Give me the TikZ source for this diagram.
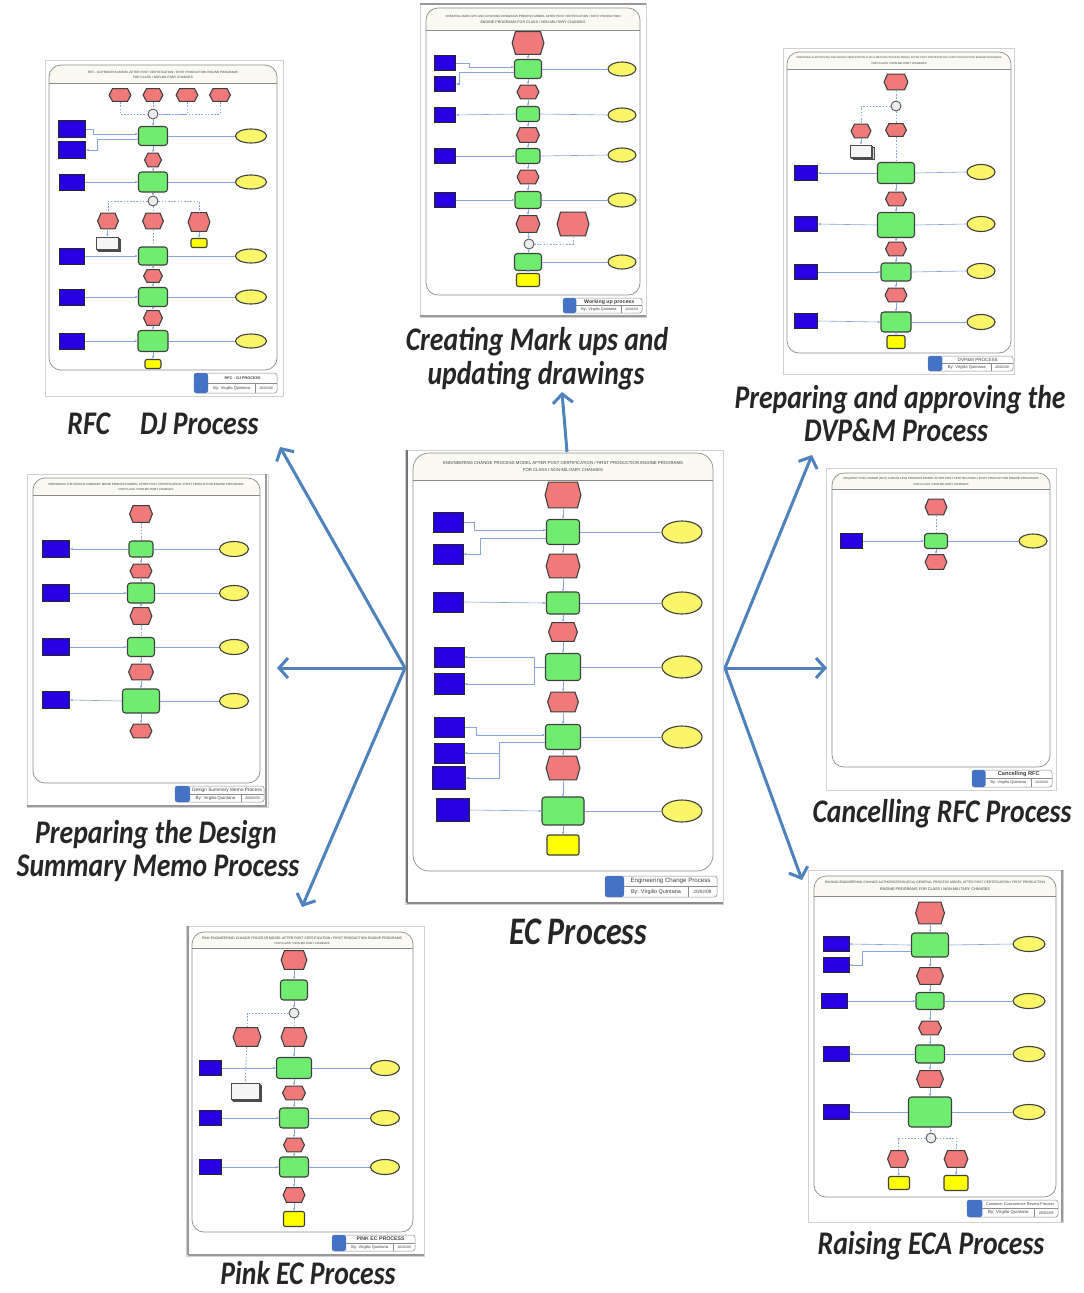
\documentclass[tikz,border=0pt]{standalone}
\usepackage{fontspec}
\setmainfont{Liberation Sans}
\newfontfamily\lblfont{Carlito}
\usepackage{graphicx}
\usetikzlibrary{shapes.misc,shapes.geometric,arrows.meta,shadows}
\definecolor{evred}{RGB}{240,122,122}
\definecolor{fngreen}{RGB}{112,236,112}
\definecolor{oublue}{RGB}{38,0,225}
\definecolor{elyel}{RGB}{250,245,105}
\definecolor{enyel}{RGB}{255,255,0}
\definecolor{conblue}{RGB}{135,165,225}
\definecolor{arrblue}{RGB}{79,129,189}
\definecolor{hdrfill}{RGB}{250,250,242}
\definecolor{footblue}{RGB}{68,114,196}
\tikzset{
  ev/.style={rectangle, inner sep=0pt, path picture={
     \filldraw[draw=black!75, fill=evred, line width=1.1pt, line join=round]
       ([xshift=4pt,yshift=-0.6pt]path picture bounding box.north west) --
       ([xshift=-4pt,yshift=-0.6pt]path picture bounding box.north east) --
       ([xshift=-0.6pt]path picture bounding box.east) --
       ([xshift=-4pt,yshift=0.6pt]path picture bounding box.south east) --
       ([xshift=4pt,yshift=0.6pt]path picture bounding box.south west) --
       ([xshift=0.6pt]path picture bounding box.west) -- cycle;}},
  fn/.style={rectangle, rounded corners=3pt, draw=black!75, line width=1.1pt, fill=fngreen, inner sep=0pt},
  ou/.style={rectangle, draw=black!85, line width=1pt, fill=oublue, inner sep=0pt},
  el/.style={ellipse, draw=black!75, line width=1.1pt, fill=elyel, inner sep=0pt},
  en/.style={rectangle, rounded corners=2pt, draw=black!75, line width=1.1pt, fill=enyel, inner sep=0pt},
  xo/.style={circle, draw=black!65, line width=0.9pt, fill=gray!15, inner sep=0pt, minimum size=10},
  dc/.style={rectangle, draw=black!70, line width=0.8pt, fill=gray!8, inner sep=0pt,
             double copy shadow={shadow xshift=1.3pt, shadow yshift=-1.3pt, draw=black!70, fill=gray!30}},
  con/.style={draw=conblue, line width=0.6pt},
  cona/.style={con, -{Latex[length=2.5pt,width=2.5pt]}},
  dsh/.style={draw=conblue, line width=0.9pt, dash pattern=on 1.6pt off 1.6pt},
  framel/.style={draw=black!45, line width=0.7pt},
  hdrline/.style={draw=black!45, line width=0.5pt},
  outer/.style={draw=black!18, line width=0.5pt},
  footline/.style={draw=black!45, line width=0.5pt},
  tinyt/.style={inner sep=0pt, text=black!75},
  lbl/.style={font=\lblfont\bfseries\itshape\fontsize{33}{33}\selectfont, inner sep=0pt, anchor=base, text=black!85},
  bigarr/.style={draw=arrblue, line width=3pt, -{Straight Barb[length=9pt,width=20pt]}}
}
\newcommand\epcn[6]{\node[#1, minimum width=#5, minimum height=#6] (#2) at (#3,#4) {};}
\newcommand\epcchain[1]{\foreach \pa/\pb in {#1} {\draw[cona] (\pa) -- (\pb);}}
\newcommand\epcdash[1]{\foreach \pa/\pb in {#1} {\draw[dsh] (\pa) -- (\pb);}}
\newcommand\epcline[1]{\foreach \pa/\pb in {#1} {\draw[con] (\pa.east) -- (\pb.west);}}
\newcommand\epcin[1]{\foreach \pa/\pb in {#1} {\draw[cona] (\pa.east) -- (\pb.west);}}
\newcommand\epcout[1]{\foreach \pa/\pb in {#1} {\draw[cona] (\pa.west) -- (\pb.east);}}
\newcommand\thumbfr[6]{%
  \begin{scope}
    \clip[rounded corners=#6] (#1,#2) rectangle (#3,#4);
    \fill[white] (#1,#2) rectangle (#3,#4);
    \fill[hdrfill] (#1,#2) rectangle (#3,#5);
  \end{scope}
  \draw[framel, rounded corners=#6] (#1,#2) rectangle (#3,#4);
  \draw[hdrline] (#1,#5) -- (#3,#5);
}
\newcommand\thumbhdr[8]{%
  \node[tinyt] (#1a) at (#2,#3) {\resizebox{#5pt}{!}{#7}};
  \node[tinyt] (#1b) at (#2,#4) {\resizebox{#6pt}{!}{#8}};
}
\newcommand\thumbfoot[7]{%
  \pgfmathsetmacro\fxa{#2+0.17*(#4-#2)}%
  \pgfmathsetmacro\fym{(#3+#5)/2}%
  \pgfmathsetmacro\fxb{#2+0.74*(#4-#2)}%
  \pgfmathsetmacro\fxt{(\fxa+#4)/2}%
  \pgfmathsetmacro\fyt{(#3+\fym)/2}%
  \pgfmathsetmacro\fyb{(\fym+#5)/2}%
  \pgfmathsetmacro\fxl{(\fxa+\fxb)/2}%
  \pgfmathsetmacro\fxr{(\fxb+#4)/2}%
  \pgfmathsetmacro\fwl{0.78*(\fxb-\fxa)}%
  \pgfmathsetmacro\fwr{0.62*(#4-\fxb)}%
  \draw[footline, fill=white, rounded corners=2.5pt] (#2,#3) rectangle (#4,#5);
  \fill[footblue, rounded corners=2.5pt] (#2,#3) rectangle (\fxa,#5);
  \draw[footline] (\fxa,\fym) -- (#4,\fym);
  \draw[footline] (\fxb,\fym) -- (\fxb,#5);
  \node[tinyt] (#1t) at (\fxt,\fyt) {\resizebox{#7pt}{!}{#6}};
  \node[tinyt] (#1a) at (\fxl,\fyb) {\resizebox{\fwl pt}{!}{By: Virgilio Quintana}};
  \node[tinyt] (#1d) at (\fxr,\fyb) {\resizebox{\fwr pt}{!}{20/02/09}};
}
\begin{document}
\begin{tikzpicture}[x=1pt,y=-1pt]
\useasboundingbox (0,0) rectangle (1084,1293);
\fill[white] (0,0) rectangle (1084,1293);

% ================= EC (centre) =================
\draw[outer] (405,450) rectangle (723,904);
\draw[black!55, line width=1.2pt] (407,450) -- (407,903);
\draw[black!45, line width=2pt] (407,903) -- (723,903);
\thumbfr{413}{453}{713}{871}{480}{16}
\thumbhdr{hEC}{563}{463}{470}{240}{80}{ENGINEERING CHANGE PROCESS MODEL AFTER POST CERTIFICATION / FIRST PRODUCTION ENGINE PROGRAMS}{FOR CLASS I NON-MILITARY CHANGES}
\epcn{ev}{e1}{563}{495}{37}{27}
\epcn{fn}{e2}{563}{532}{33}{25}
\epcn{ev}{e3}{563}{566}{35}{25}
\epcn{fn}{e4}{563}{603}{33}{22}
\epcn{ev}{e5}{563}{632}{30}{20}
\epcn{fn}{e6}{563}{667}{35}{27}
\epcn{ev}{e7}{563}{702}{32}{21}
\epcn{fn}{e8}{563}{737}{35}{25}
\epcn{ev}{e9}{563}{768}{35}{25}
\epcn{fn}{e10}{563}{811}{42}{28}
\epcn{en}{e11}{563}{845}{32}{20}
\epcn{ou}{eb1}{448}{522}{30}{20}
\epcn{ou}{eb2}{448}{554}{30}{20}
\epcn{ou}{eb3}{448}{602}{30}{20}
\epcn{ou}{eb4}{449}{657}{30}{20}
\epcn{ou}{eb5}{449}{684}{30}{21}
\epcn{ou}{eb6}{449}{727}{30}{20}
\epcn{ou}{eb7}{449}{753}{30}{20}
\epcn{ou}{eb8}{449}{778}{33}{23}
\epcn{ou}{eb9}{453}{810}{33}{23}
\epcn{el}{ey1}{682}{532}{40}{22}
\epcn{el}{ey2}{682}{603}{40}{22}
\epcn{el}{ey3}{682}{667}{40}{22}
\epcn{el}{ey4}{682}{737}{40}{22}
\epcn{el}{ey5}{682}{811}{40}{22}
\epcchain{e1/e2,e2/e3,e3/e4,e4/e5,e5/e6,e6/e7,e7/e8,e8/e9,e9/e10,e10/e11}
\epcline{e2/ey1,e4/ey2,e6/ey3,e8/ey4,e10/ey5}
\draw[cona] (eb1.east) -- ++(11,0) |- ([yshift=2pt]e2.west);
\draw[cona] ([yshift=-6pt]e2.west) -- ++(-66,0) |- (eb2.east);
\epcin{eb3/e4,eb9/e10}
\draw[con] (e6.west) -- ++(-10.5,0) coordinate (j6);
\draw[cona] (j6) |- (eb4.east);
\draw[cona] (j6) |- (eb5.east);
\draw[cona] (eb6.east) -- ++(12,0) |- ([yshift=2pt]e8.west);
\draw[con] ([yshift=-5pt]e8.west) -- ++(-45.5,0) coordinate (j8);
\draw[cona] (j8) |- (eb7.east);
\draw[cona] (j8) |- (eb8.east);
\thumbfoot{fEC}{605}{876}{717}{897}{Engineering Change Process}{80}

% ================= RFC - DJ =================
\draw[outer] (45,60) rectangle (283,396);
\thumbfr{49}{65}{277}{370}{83}{12}
\thumbhdr{hRF}{163}{72}{77}{150}{60}{RFC - DJ PROCESS MODEL AFTER POST CERTIFICATION / FIRST PRODUCTION ENGINE PROGRAMS}{FOR CLASS I NON-MILITARY CHANGES}
\epcn{ev}{r1}{120}{95}{23}{14}
\epcn{ev}{r2}{153}{95}{21}{14}
\epcn{ev}{r3}{187}{95}{23}{14}
\epcn{ev}{r4}{220}{95}{22}{14}
\epcn{xo}{rx1}{153}{114}{10}{10}
\epcn{fn}{g1}{153}{136}{29}{19}
\epcn{ou}{rb1}{72}{129}{27}{17}
\epcn{ou}{rb2}{72}{150}{27}{17}
\epcn{el}{ry1}{251}{136}{31}{14}
\epcn{ev}{r5}{153}{160}{18}{15}
\epcn{fn}{g2}{153}{182}{29}{20}
\epcn{ou}{rb3}{72}{182}{25}{16}
\epcn{el}{ry2}{251}{182}{31}{14}
\epcn{xo}{rx2}{153}{201}{10}{10}
\epcn{ev}{r6}{108}{221}{22}{17}
\epcn{ev}{r7}{153}{221}{22}{17}
\epcn{ev}{r8}{199}{222}{23}{20}
\epcn{dc}{rd}{107}{243}{22}{12}
\epcn{en}{rye}{199}{243}{16}{9}
\epcn{fn}{g3}{153}{256}{29}{18}
\epcn{ou}{rb4}{72}{256}{25}{16}
\epcn{el}{ry3}{251}{256}{31}{14}
\epcn{ev}{r9}{153}{276}{20}{14}
\epcn{fn}{g4}{153}{297}{29}{19}
\epcn{ou}{rb5}{72}{297}{25}{16}
\epcn{el}{ry4}{251}{297}{31}{14}
\epcn{ev}{r10}{153}{318}{20}{16}
\epcn{fn}{g5}{153}{341}{30}{21}
\epcn{ou}{rb6}{72}{341}{25}{16}
\epcn{el}{ry5}{251}{341}{31}{14}
\epcn{en}{rend}{153}{364}{16}{9}
\draw[dsh] (r1.south) |- (rx1.west);
\draw[dsh] (r3.south) |- (rx1.east);
\draw[dsh] (r4.south) |- (rx1.east);
\epcdash{r2/rx1,rx2/r7,r7/g3}
\draw[dsh] (rx2.west) -| (r6.north);
\draw[dsh] (rx2.east) -| (r8.north);
\epcchain{rx1/g1,g1/r5,r5/g2,g2/rx2,r6/rd,r8/rye,g3/r9,r9/g4,g4/r10,r10/g5,g5/rend}
\epcline{g1/ry1,g2/ry2,g3/ry3,g4/ry4,g5/ry5}
\draw[cona] (rb1.east) -- ++(7.5,0) |- ([yshift=2pt]g1.west);
\draw[cona] ([yshift=-3pt]g1.west) -- ++(-40.5,0) |- (rb2.east);
\epcin{rb3/g2,rb4/g3,rb5/g4,rb6/g5}
\thumbfoot{fRF}{194}{373}{277}{393}{\textbf{RFC -- DJ PROCESS}}{36}

% ================= Creating mark ups =================
\draw[outer] (420,3) rectangle (646,317);
\draw[black!40, line width=2.5pt] (420,4) -- (646,4);
\draw[black!40, line width=2.5pt] (420,316) -- (646,316);
\thumbfr{426}{8}{640}{295}{30}{12}
\thumbhdr{hCM}{533}{16}{22}{175}{105}{CREATING MARK UPS AND UPDATING DRAWINGS PROCESS MODEL AFTER POST CERTIFICATION / FIRST PRODUCTION}{ENGINE PROGRAMS FOR CLASS I NON-MILITARY CHANGES}
\epcn{ev}{c1}{528}{43}{33}{24}
\epcn{fn}{c2}{528}{69}{27}{19}
\epcn{ev}{c3}{528}{92}{23}{15}
\epcn{fn}{c4}{528}{114}{23}{15}
\epcn{ev}{c5}{528}{135}{24}{16}
\epcn{fn}{c6}{528}{156}{24}{15}
\epcn{ev}{c7}{528}{177}{23}{15}
\epcn{fn}{c8}{528}{200}{26}{17}
\epcn{ev}{c9}{528}{224}{25}{18}
\epcn{xo}{cx}{529}{244}{10}{10}
\epcn{fn}{c10}{528}{262}{27}{17}
\epcn{en}{c11}{528}{280}{23}{13}
\epcn{ev}{cs}{573}{224}{33}{25}
\epcn{ou}{cb1}{445}{63}{21}{15}
\epcn{ou}{cb2}{445}{84}{21}{15}
\epcn{ou}{cb3}{445}{115}{21}{15}
\epcn{ou}{cb4}{445}{156}{21}{15}
\epcn{ou}{cb5}{445}{200}{21}{15}
\epcn{el}{cy1}{622}{69}{28}{14}
\epcn{el}{cy2}{622}{115}{28}{14}
\epcn{el}{cy3}{622}{155}{28}{14}
\epcn{el}{cy4}{622}{200}{28}{14}
\epcn{el}{cy5}{622}{262}{28}{14}
\epcchain{c1/c2,c2/c3,c3/c4,c4/c5,c5/c6,c6/c7,c7/c8,c8/c9,c9/cx,cx/c10,c10/c11}
\draw[dsh] (cs.south) |- (cx.east);
\epcline{c2/cy1,c4/cy2,c6/cy3,c8/cy4,c10/cy5}
\draw[cona] (cb1.east) -- ++(13,0) |- ([yshift=2pt]c2.west);
\draw[cona] ([yshift=-3pt]c2.west) -- ++(-54.5,0) |- (cb2.east);
\epcout{c4/cb3}
\epcin{cb4/c6,cb5/c8}
\thumbfoot{fCM}{563}{298}{642}{313}{\textbf{Working up process}}{50}

% ================= DVP&M =================
\draw[outer] (783,48) rectangle (1014,374);
\thumbfr{787}{52}{1011}{353}{69}{12}
\thumbhdr{hDV}{899}{58}{63}{205}{55}{PREPARING \& APPROVING THE DESIGN VERIFICATION PLAN \& METHOD PROCESS MODEL AFTER POST CERTIFICATION / FIRST PRODUCTION ENGINE PROGRAMS}{FOR CLASS I NON-MILITARY CHANGES}
\epcn{ev}{v1}{896}{82}{25}{17}
\epcn{xo}{vx}{896}{106}{10}{10}
\epcn{ev}{v2}{896}{130}{22}{14}
\epcn{ev}{vl}{861}{131}{21}{15}
\epcn{dc}{vd}{861}{151}{21}{12}
\epcn{fn}{v3}{896}{173}{37}{21}
\epcn{ev}{v4}{896}{199}{22}{15}
\epcn{fn}{v5}{896}{225}{37}{25}
\epcn{ev}{v6}{896}{249}{22}{15}
\epcn{fn}{v7}{896}{272}{30}{18}
\epcn{ev}{v8}{896}{295}{23}{15}
\epcn{fn}{v9}{896}{322}{30}{20}
\epcn{en}{v10}{896}{342}{18}{13}
\epcn{ou}{vb1}{806}{173}{23}{15}
\epcn{ou}{vb2}{806}{224}{23}{15}
\epcn{ou}{vb3}{806}{272}{23}{15}
\epcn{ou}{vb4}{806}{321}{23}{15}
\epcn{el}{vy1}{981}{172}{28}{15}
\epcn{el}{vy2}{981}{224}{28}{15}
\epcn{el}{vy3}{981}{271}{28}{15}
\epcn{el}{vy4}{981}{322}{28}{15}
\epcdash{v1/vx,vx/v2,v2/v3}
\draw[dsh] (vx.west) -| (vl.north);
\epcchain{vl/vd,v3/v4,v4/v5,v5/v6,v6/v7,v7/v8,v8/v9,v9/v10}
\epcline{v3/vy1,v5/vy2,v7/vy3,v9/vy4}
\epcout{v3/vb1,v5/vb2}
\epcin{vb3/v7,vb4/v9}
\thumbfoot{fDV}{928}{356}{1013}{371}{DVP\&M PROCESS}{40}

% ================= Design Summary Memo =================
\draw[outer] (27,474) rectangle (268,807);
\draw[black!40, line width=1.5pt] (266,474) -- (266,806);
\draw[black!40, line width=1.5pt] (27,806) -- (267,806);
\thumbfr{33}{478}{260}{783}{495}{12}
\thumbhdr{hDS}{146}{484}{489}{195}{55}{PREPARING THE DESIGN SUMMARY MEMO PROCESS MODEL AFTER POST CERTIFICATION / FIRST PRODUCTION ENGINE PROGRAMS}{FOR CLASS I NON-MILITARY CHANGES}
\epcn{ev}{s1}{141}{514}{24}{18}
\epcn{fn}{s2}{141}{549}{24}{16}
\epcn{ev}{s3}{141}{571}{23}{15}
\epcn{fn}{s4}{141}{593}{27}{20}
\epcn{ev}{s5}{141}{616}{23}{18}
\epcn{fn}{s6}{141}{647}{27}{19}
\epcn{ev}{s7}{141}{672}{26}{17}
\epcn{fn}{s8}{141}{701}{37}{24}
\epcn{ev}{s9}{141}{731}{23}{15}
\epcn{ou}{sb1}{56}{549}{27}{17}
\epcn{ou}{sb2}{56}{593}{27}{17}
\epcn{ou}{sb3}{56}{647}{27}{17}
\epcn{ou}{sb4}{56}{700}{27}{17}
\epcn{el}{sy1}{234}{549}{29}{15}
\epcn{el}{sy2}{234}{593}{29}{15}
\epcn{el}{sy3}{234}{647}{29}{15}
\epcn{el}{sy4}{234}{701}{29}{15}
\epcdash{s1/s2,s5/s6}
\epcchain{s2/s3,s3/s4,s4/s5,s6/s7,s7/s8,s8/s9}
\epcline{s2/sy1,s4/sy2,s6/sy3,s8/sy4}
\epcout{s2/sb1,s8/sb4}
\epcin{sb2/s4,sb3/s6}
\thumbfoot{fDS}{175}{786}{264}{802}{Design Summary Memo Process}{70}

% ================= Cancelling RFC =================
\draw[outer] (826,468) rectangle (1056,790);
\thumbfr{832}{473}{1050}{767}{489}{12}
\thumbhdr{hCA}{941}{479}{484}{195}{55}{REQUEST FOR CHANGE (RFC) CANCELLING PROCESS MODEL AFTER POST CERTIFICATION / FIRST PRODUCTION ENGINE PROGRAMS}{FOR CLASS I NON-MILITARY CHANGES}
\epcn{ev}{k1}{936}{507}{23}{17}
\epcn{fn}{k2}{936}{541}{23}{15}
\epcn{ev}{k3}{936}{562}{23}{16}
\epcn{ou}{kb}{851}{541}{22}{15}
\epcn{el}{ky}{1033}{541}{28}{14}
\epcdash{k1/k2}
\epcchain{k2/k3}
\epcin{kb/k2}
\epcline{k2/ky}
\thumbfoot{fCA}{972}{770}{1052}{787}{\textbf{Cancelling RFC}}{42}

% ================= Pink EC =================
\draw[outer] (186,926) rectangle (424,1256);
\draw[black!40, line width=1.5pt] (188,926) -- (188,1255);
\draw[black!40, line width=1.5pt] (188,1255) -- (424,1255);
\thumbfr{192}{932}{413}{1232}{948}{12}
\thumbhdr{hPK}{302}{938}{943}{200}{55}{PINK ENGINEERING CHANGE PROCESS MODEL AFTER POST CERTIFICATION / FIRST PRODUCTION ENGINE PROGRAMS}{FOR CLASS I NON-MILITARY CHANGES}
\epcn{ev}{p1}{294}{960}{27}{20}
\epcn{fn}{p2}{294}{990}{27}{20}
\epcn{xo}{px}{294}{1013}{10}{10}
\epcn{ev}{p3}{294}{1037}{27}{20}
\epcn{ev}{pl}{247}{1037}{29}{20}
\epcn{dc}{pd}{245}{1091}{28}{16}
\epcn{fn}{p4}{294}{1068}{35}{21}
\epcn{ev}{p5}{294}{1093}{24}{15}
\epcn{fn}{p6}{294}{1118}{29}{20}
\epcn{ev}{p7}{294}{1145}{22}{15}
\epcn{fn}{p8}{294}{1167}{29}{20}
\epcn{ev}{p9}{294}{1195}{23}{16}
\epcn{en}{p10}{294}{1219}{21}{15}
\epcn{ou}{pb1}{210}{1068}{22}{15}
\epcn{ou}{pb2}{210}{1118}{22}{15}
\epcn{ou}{pb3}{210}{1167}{22}{15}
\epcn{el}{py1}{385}{1068}{29}{15}
\epcn{el}{py2}{385}{1118}{29}{15}
\epcn{el}{py3}{385}{1167}{29}{15}
\epcchain{p1/p2,p2/px,p3/p4,p4/p5,p5/p6,p6/p7,p7/p8,p8/p9,p9/p10}
\epcdash{px/p3,pl/pd}
\draw[dsh] (px.west) -| (pl.north);
\epcin{pb1/p4,pb2/p6,pb3/p8}
\epcline{p4/py1,p6/py2,p8/py3}
\thumbfoot{fPK}{332}{1235}{415}{1251}{\textbf{PINK EC PROCESS}}{48}

% ================= Raising ECA =================
\draw[outer] (808,870) rectangle (1063,1222);
\draw[black!40, line width=1.5pt] (1062,870) -- (1062,1222);
\thumbfr{814}{876}{1056}{1197}{896}{12}
\thumbhdr{hRA}{935}{883}{889}{220}{110}{RAISING ENGINEERING CHANGE AUTHORIZATION (ECA) GENERAL PROCESS MODEL AFTER POST CERTIFICATION / FIRST PRODUCTION}{ENGINE PROGRAMS FOR CLASS I NON-MILITARY CHANGES}
\epcn{ev}{a1}{930}{913}{30}{23}
\epcn{fn}{a2}{930}{945}{37}{24}
\epcn{ev}{a3}{930}{976}{28}{18}
\epcn{fn}{a4}{930}{1001}{28}{17}
\epcn{ev}{a5}{930}{1028}{24}{15}
\epcn{fn}{a6}{930}{1054}{29}{18}
\epcn{ev}{a7}{930}{1079}{28}{18}
\epcn{fn}{a8}{930}{1112}{43}{30}
\epcn{xo}{ax}{931}{1138}{10}{10}
\epcn{ev}{aL}{898}{1159}{22}{18}
\epcn{ev}{aR}{956}{1159}{25}{18}
\epcn{en}{ayL}{899}{1183}{21}{13}
\epcn{en}{ayR}{956}{1183}{24}{15}
\epcn{ou}{ab1}{836}{944}{26}{15}
\epcn{ou}{ab2}{836}{965}{26}{15}
\epcn{ou}{ab3}{834}{1001}{26}{15}
\epcn{ou}{ab4}{836}{1054}{26}{15}
\epcn{ou}{ab5}{836}{1112}{26}{15}
\epcn{el}{ay1}{1029}{944}{32}{15}
\epcn{el}{ay2}{1029}{1001}{32}{15}
\epcn{el}{ay3}{1029}{1054}{32}{15}
\epcn{el}{ay4}{1029}{1112}{32}{15}
\epcchain{a1/a2,a2/a3,a3/a4,a4/a5,a5/a6,a6/a7,a7/a8,a8/ax,aL/ayL,aR/ayR}
\draw[dsh] (ax.west) -| (aL.north);
\draw[dsh] (ax.east) -| (aR.north);
\epcout{a2/ab1,a6/ab4,a8/ab5}
\draw[cona] ([yshift=-6pt]a2.west) -- ++(-48.5,0) |- (ab2.east);
\epcin{ab3/a4}
\epcline{a2/ay1,a4/ay2,a6/ay3,a8/ay4}
\thumbfoot{fRA}{967}{1200}{1058}{1217}{Customer Concurrence Review Process}{68}

% ================= big arrows =================
\coordinate (hubL) at (405,668);
\coordinate (hubR) at (725,668);
\coordinate (hubT) at (567,452);
\coordinate (tUL) at (280,447);
\coordinate (tL) at (277,668);
\coordinate (tLL) at (302,907);
\coordinate (tT) at (562,392);
\coordinate (tUR) at (812,455);
\coordinate (tR) at (827,668);
\coordinate (tLR) at (802,880);
\draw[bigarr] (hubL) -- (tUL);
\draw[bigarr] (hubL) -- (tL);
\draw[bigarr] (hubL) -- (tLL);
\draw[bigarr] (hubT) -- (tT);
\draw[bigarr] (hubR) -- (tUR);
\draw[bigarr] (hubR) -- (tR);
\draw[bigarr] (hubR) -- (tLR);

% ================= labels =================
\node[lbl] (tRF) at (163,434) {\scalebox{0.84}[1]{RFC\hspace{36pt}DJ Process}};
\node[lbl] (tCM1) at (537,350) {\scalebox{0.84}[1]{Creating Mark ups and}};
\node[lbl] (tCM2) at (536,384) {\scalebox{0.84}[1]{updating drawings}};
\node[lbl] (tDV1) at (900,408) {\scalebox{0.84}[1]{Preparing and approving the}};
\node[lbl] (tDV2) at (896,441) {\scalebox{0.84}[1]{DVP\&M Process}};
\node[lbl] (tDS1) at (156,843) {\scalebox{0.84}[1]{Preparing the Design}};
\node[lbl] (tDS2) at (158,876) {\scalebox{0.84}[1]{Summary Memo Process}};
\node[lbl, font=\lblfont\bfseries\itshape\fontsize{39}{39}\selectfont] (tEC) at (578,944) {\scalebox{0.82}[1]{EC Process}};
\node[lbl] (tCA) at (942,822) {\scalebox{0.84}[1]{Cancelling RFC Process}};
\node[lbl] (tPK) at (308,1284) {\scalebox{0.84}[1]{Pink EC Process}};
\node[lbl] (tRA) at (931,1254) {\scalebox{0.84}[1]{Raising ECA Process}};
\end{tikzpicture}
\end{document}
